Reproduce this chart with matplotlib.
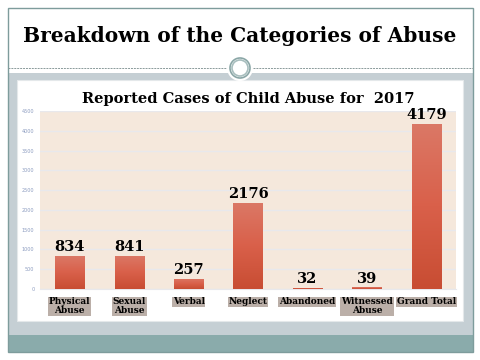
import numpy as np
import matplotlib.pyplot as plt
from matplotlib.patches import Rectangle, Ellipse
from matplotlib.colors import LinearSegmentedColormap

# Data
categories = ['Physical\nAbuse', 'Sexual\nAbuse', 'Verbal', 'Neglect',
              'Abandoned', 'Witnessed\nAbuse', 'Grand Total']
cases = [834, 841, 257, 2176, 32, 39, 4179]
yticks = [0, 500, 1000, 1500, 2000, 2500, 3000, 3500, 4000, 4500]

fig = plt.figure(figsize=(4.8, 3.6), dpi=100)
fig.patch.set_facecolor('white')

# slide decoration
W, H = 480, 360
def box(x0, y0, x1, y1, **kw):
    fig.add_artist(Rectangle((x0 / W, 1 - y1 / H), (x1 - x0) / W, (y1 - y0) / H,
                             transform=fig.transFigure, zorder=-5, **kw))

box(8, 73, 473, 352, facecolor='#C5CFD4', edgecolor='none')
box(8, 335, 473, 352, facecolor='#8AABAB', edgecolor='none')
box(17, 80, 463, 321, facecolor='white', edgecolor='#E4E8EA', lw=0.8)
box(8, 8, 473, 352, facecolor='none', edgecolor='#7E9C9C', lw=1.0)
fig.add_artist(plt.Line2D([8 / W, 473 / W], [1 - 68 / H] * 2, transform=fig.transFigure,
                          color='#8A9A9A', lw=0.7, ls=(0, (2, 1)), zorder=-4))
fig.add_artist(Ellipse((240 / W, 1 - 68 / H), 26 / W, 26 / H, transform=fig.transFigure,
                       facecolor='white', edgecolor='none', zorder=-3))
for r, c in [(10, '#8AA6A6'), (8, '#A8BEBE')]:
    fig.add_artist(Ellipse((240 / W, 1 - 68 / H), 2 * r / W, 2 * r / H,
                           transform=fig.transFigure, facecolor='none', edgecolor=c,
                           lw=1.2, zorder=-2))

fig.text(0.5, 1 - 36 / H, 'Breakdown of the Categories of Abuse', ha='center', va='center',
         fontsize=14.5, fontweight='bold', family='DejaVu Serif', color='black')

ax = fig.add_axes([40 / W, 1 - 289 / H, 416 / W, 178 / H])
ax.set_zorder(5)
ax.set_facecolor('#F5E8DC')
x = np.arange(len(categories))
bars = ax.bar(x, cases, width=0.49, color='#D0583C', zorder=2)

# gradient fill on bars
grad = np.linspace(0, 1, 100).reshape(-1, 1)
cmap = LinearSegmentedColormap.from_list('bar', ['#C84D33', '#D9604A', '#DB7866'])
for b in bars:
    im = ax.imshow(grad, cmap=cmap, aspect='auto', origin='lower', zorder=3,
                   extent=[b.get_x(), b.get_x() + b.get_width(), 0, max(b.get_height(), 1)])
    im.set_clip_path(b)

for xi, v in zip(x, cases):
    ax.text(xi, v + 40, str(v), ha='center', va='bottom', fontsize=10.5,
            fontweight='bold', family='DejaVu Serif', zorder=4)

ax.set_xlim(-0.5, len(categories) - 0.5)
ax.set_ylim(0, 4500)
ax.set_yticks(yticks)
ax.set_yticklabels([str(t) for t in yticks], fontsize=3.5, color='#8C9CC0')
ax.yaxis.grid(True, color='#E8E8EC', lw=1.0, zorder=1)
ax.set_axisbelow(True)
ax.tick_params(length=0, pad=4)
for s in ax.spines.values():
    s.set_visible(False)
ax.spines['bottom'].set_visible(True)
ax.spines['bottom'].set_color('#E8E8EC')

ax.set_xticks(x)
ax.set_xticklabels(categories, fontsize=6.5, fontweight='bold', family='DejaVu Serif',
                   linespacing=1.0, va='top')
for lbl in ax.get_xticklabels():
    lbl.set_bbox(dict(facecolor='#BBAFA8', edgecolor='none', pad=0.6))
ax.tick_params(axis='x', pad=6)

ax.set_title('Reported Cases of Child Abuse for  2017', fontsize=10.5, fontweight='bold',
             family='DejaVu Serif', pad=6)

fig.savefig('out.png', dpi=100)
